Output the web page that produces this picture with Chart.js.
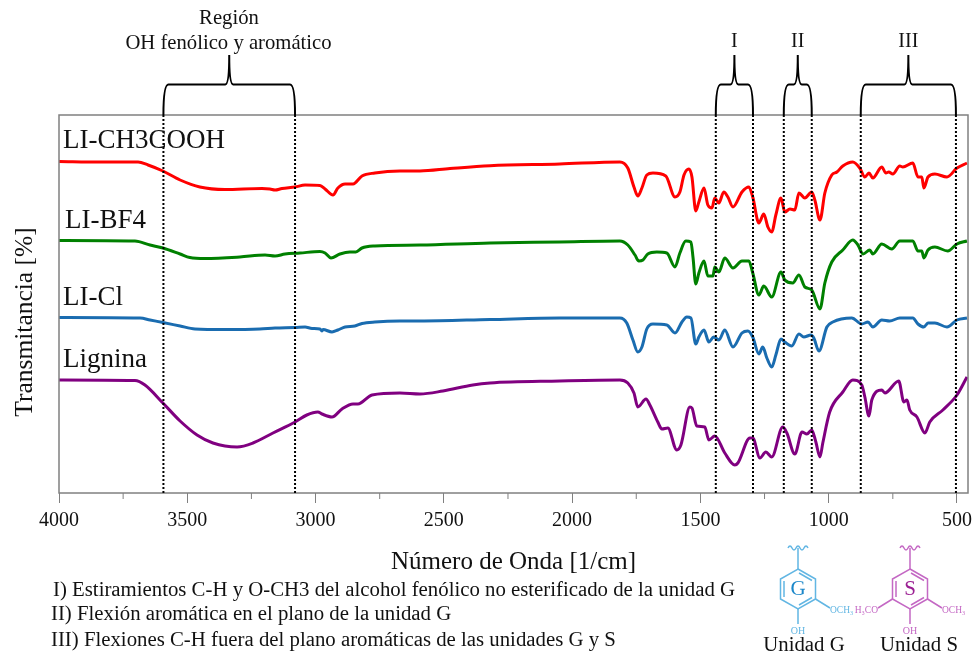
<!DOCTYPE html>
<html lang="es">
<head>
<meta charset="utf-8">
<title>Espectros FTIR</title>
<script src="https://cdn.jsdelivr.net/npm/chart.js@4"></script>
<style>
  body { margin: 0; background: #fff; }
  canvas { display: block; }
</style>
</head>
<body>
<canvas id="myChart" width="973" height="652"></canvas>
<script>
// Values (wavenumber in 1/cm, transmittance in arbitrary units)
const ch3Wn = [4000,3840,3692,3653,3595,3528,3451,3353,3209,3178,3158,3131,3080,3041,2983,2963,2932,2913,2885,2854,2819,2769,2671,2593,2476,2320,2048,1814,1783,1759,1744,1728,1709,1685,1635,1599,1580,1564,1545,1533,1518,1506,1486,1471,1455,1444,1428,1409,1393,1373,1338,1311,1296,1272,1253,1237,1222,1206,1186,1171,1151,1132,1116,1093,1066,1054,1034,1015,988,968,945,906,879,859,843,828,793,777,766,750,723,711,672,652,637,629,613,586,539,500,461];
const ch3T = [331.5,331,331,328,322,313,306,303.5,304.5,304,303,304.5,306,308,307.5,304,298,305,309,309,317,320,322,322,324.5,327.3,329,331,325,306,297,305,318,320,317,296,301,318,324,316,282,291,305,288,285,295,290,301,296,286,301,306,296,270,279,266,261,278,295,281,284,283,300,295,301,293,273,300,318,321,327,331,325,316,320,315,326,320,321,319,327,326,330,316,316,305,316,319,316,325,330];

const bf4Wn = [4000,3704,3645,3595,3528,3490,3431,3295,3197,3158,3119,3061,2983,2963,2940,2905,2866,2843,2819,2769,2593,2320,2048,1814,1783,1755,1740,1724,1705,1670,1631,1599,1580,1557,1537,1529,1518,1506,1486,1471,1451,1444,1428,1405,1373,1338,1311,1296,1272,1253,1222,1186,1171,1140,1116,1093,1066,1034,1015,988,945,906,886,866,840,828,793,754,723,672,652,637,629,613,586,536,500,461];
const bf4T = [252.5,252,248,245,239,235.5,234.5,236,238,237,239,240,241.5,240,235,239,241,241,245,247,248,250,251,252,248,238,232,233,239,241,240,226,240,252,251,236,209,220,232,217,217,226,221,235,225,232,232,220,198,207,196,221,213,210,218,206,203,184,210,231,243,253,248,239,243,239,249,244,252,252,242,242,235,243,246,242,249,252];

const clWn = [4000,3684,3645,3595,3528,3470,3353,3217,3158,3080,3041,3014,2983,2975,2971,2936,2913,2885,2847,2819,2769,2671,2593,2320,2048,1814,1787,1763,1744,1728,1709,1685,1631,1599,1572,1553,1537,1518,1506,1486,1467,1448,1428,1405,1373,1338,1315,1296,1272,1257,1241,1222,1206,1186,1171,1144,1116,1097,1069,1058,1038,1007,984,910,871,847,828,793,762,723,672,652,629,613,586,539,500,461];
const clT = [175.5,175,173,170.5,167,164,163.5,164,165,165.5,166,164.5,164,162,163.5,161,163,166,167,169.5,171,172,172,173.5,175,175,170,153,141,146,164,169,168,160,171,176,175,149,156,163,151,156,153,163,146,160,162,156,139,146,135,126,138,154,151,147,159,156,158,155,142,166,171,175,169,171,166,173,172,175,175,169,166,170,170,166,173,175];

const ligWn = [4000,3704,3665,3595,3528,3462,3400,3306,3244,3166,3080,3034,2991,2975,2936,2897,2854,2835,2780,2671,2593,2504,2387,2320,2048,1814,1783,1759,1744,1712,1697,1666,1650,1627,1592,1576,1541,1533,1514,1483,1467,1444,1405,1366,1354,1307,1296,1268,1245,1222,1179,1163,1132,1104,1085,1066,1050,1034,1023,996,945,906,871,859,843,832,793,781,727,707,695,684,656,625,606,555,500,461];
const ligT = [113,112.5,108,90,72,58,50,46,50,60,71,78,81,79,76,84,89,89,98,100,99,102,108,110,112,113,110,100,86,94,88,71,64,65,43,48,86,85,67,66,53,57,40,28,30,55,55,35,41,36,66,60,39,61,59,63,51,36,50,81,101,113,108,96,77,93,103,100,112,91,93,83,76,60,71,83,98,116];

const seriesNames = ['LI-CH3COOH', 'LI-BF4', 'LI-Cl', 'Lignina'];
const seriesColors = ['#ff0000', '#008000', '#1a6cb0', '#800080'];

const xTickValues = [4000,3750,3500,3250,3000,2750,2500,2250,2000,1750,1500,1250,1000,750,500];

// Dotted limits of the bands and the brackets above them
const bandLimits = [3593, 3080, 1440, 1295, 1175, 1066, 875, 504];
const bandLabels = ['', 'I', 'II', 'III'];
const footnotes = [
    'I) Estiramientos C-H y O-CH3 del alcohol fenólico no esterificado de la unidad G',
    'II) Flexión aromática en el plano de la unidad G',
    'III) Flexiones C-H fuera del plano aromáticas de las unidades G y S'
];

const SERIF = '"Liberation Serif", "Times New Roman", serif';

function toPoints(wn, t) {
    return wn.map((x, i) => ({ x: x, y: t[i] }));
}

function makeDataset(i, wn, t) {
    return {
        label: seriesNames[i],
        data: toPoints(wn, t),
        showLine: true,
        borderColor: seriesColors[i],
        borderWidth: 3,
        pointRadius: 0,
        cubicInterpolationMode: 'monotone'
    };
}

function label(ctx, text, x, y, size, color, align) {
    ctx.font = size + 'px ' + SERIF;
    ctx.fillStyle = color || '#111';
    ctx.textAlign = align || 'center';
    ctx.textBaseline = 'middle';
    ctx.fillText(text, x, y);
}

function bracket(ctx, x1, x2, yTip, yBar, yEnd) {
    const mid = (x1 + x2) / 2;
    ctx.beginPath();
    ctx.moveTo(x1, yEnd);
    ctx.quadraticCurveTo(x1, yBar, x1 + 5, yBar);
    ctx.lineTo(mid - 4, yBar);
    ctx.quadraticCurveTo(mid, yBar, mid, yTip);
    ctx.quadraticCurveTo(mid, yBar, mid + 4, yBar);
    ctx.lineTo(x2 - 5, yBar);
    ctx.quadraticCurveTo(x2, yBar, x2, yEnd);
    ctx.stroke();
}

function segments(ctx, pts) {
    ctx.beginPath();
    pts.forEach(p => {
        ctx.moveTo(p[0], p[1]);
        ctx.lineTo(p[2], p[3]);
    });
    ctx.stroke();
}

// Ring of a lignin unit, the substituents are given by the caller
function ring(ctx, cx, color, letterColor, letter, left) {
    const cy = 589;
    ctx.strokeStyle = color;
    ctx.lineWidth = 1.5;
    const hx = [0, 17.5, 17.5, 0, -17.5, -17.5];
    const hy = [-20, -10, 10, 20, 10, -10];
    ctx.beginPath();
    hx.forEach((h, i) => {
        if (i === 0) ctx.moveTo(cx + h, cy + hy[i]);
        else ctx.lineTo(cx + h, cy + hy[i]);
    });
    ctx.closePath();
    ctx.stroke();
    // inner double bonds
    segments(ctx, [
        [cx + 1, cy - 16, cx + 14, cy - 8.5],
        [cx + 14, cy + 8.5, cx + 1, cy + 16],
        [cx - 14, cy + 8, cx - 14, cy - 8]
    ]);
    // stem, OH and methoxy bonds
    segments(ctx, [
        [cx, cy - 20, cx, cy - 41],
        [cx, cy + 20, cx, cy + 35],
        [cx + 17.5, cy + 10, cx + 32, cy + 19]
    ]);
    if (left) segments(ctx, [[cx - 17.5, cy + 10, cx - 32, cy + 19]]);
    // wavy cut of the chain
    ctx.beginPath();
    ctx.moveTo(cx - 10, cy - 41);
    for (let i = 0; i < 5; i++) {
        ctx.quadraticCurveTo(cx - 8 + i * 4, cy - 45 + (i % 2) * 8, cx - 6 + i * 4, cy - 41);
    }
    ctx.stroke();
    label(ctx, letter, cx, cy, 21, letterColor);
    label(ctx, 'OH', cx, cy + 42, 10, color);
    label(ctx, 'OCH₃', cx + 32, cy + 21, 9.5, color, 'left');
    if (left) label(ctx, 'H₃CO', cx - 32, cy + 21, 9.5, color, 'right');
}

const annotations = {
    id: 'annotations',
    afterDatasetsDraw(chart) {
        const ctx = chart.ctx;
        const xs = chart.scales.x;
        const area = chart.chartArea;
        ctx.save();

        // panel frame
        ctx.strokeStyle = '#808080';
        ctx.lineWidth = 1.5;
        ctx.strokeRect(area.left, area.top, area.right - area.left, area.bottom - area.top);

        // minor ticks, the major ones come from the scale
        ctx.lineWidth = 1;
        xs.ticks.forEach(t => {
            if (t.value % 500 !== 0) {
                const px = xs.getPixelForValue(t.value);
                segments(ctx, [[px, area.bottom, px, area.bottom + 6]]);
            }
        });

        // dotted band limits
        ctx.strokeStyle = '#000';
        ctx.lineWidth = 2;
        ctx.setLineDash([2, 2]);
        bandLimits.forEach(w => {
            const px = xs.getPixelForValue(w);
            segments(ctx, [[px, area.top, px, area.bottom]]);
        });
        ctx.setLineDash([]);

        // brackets above the bands
        ctx.lineWidth = 2;
        for (let i = 0; i < bandLabels.length; i++) {
            const x1 = xs.getPixelForValue(bandLimits[i * 2]);
            const x2 = xs.getPixelForValue(bandLimits[i * 2 + 1]);
            bracket(ctx, x1, x2, 55, 84.5, area.top);
            if (bandLabels[i]) label(ctx, bandLabels[i], (x1 + x2) / 2, 42, 20);
        }
        label(ctx, 'Región', 229, 19, 20.7);
        label(ctx, 'OH fenólico y aromático', 228.5, 44, 20.7);

        // y title sits lower than the middle of the panel
        ctx.save();
        ctx.translate(25, 322);
        ctx.rotate(-Math.PI / 2);
        label(ctx, 'Transmitancia [%]', 0, 0, 25.5);
        ctx.restore();

        // names of the curves
        label(ctx, seriesNames[0], 63, 141, 27, '#111', 'left');
        label(ctx, seriesNames[1], 65, 220.5, 27, '#111', 'left');
        label(ctx, seriesNames[2], 63, 298, 27, '#111', 'left');
        label(ctx, seriesNames[3], 63, 360, 27, '#111', 'left');

        // notes under the chart
        label(ctx, footnotes[0], 53, 591, 20.8, '#111', 'left');
        label(ctx, footnotes[1], 51, 615, 20.8, '#111', 'left');
        label(ctx, footnotes[2], 51, 641, 20.8, '#111', 'left');

        ring(ctx, 798, '#62b6e3', '#1b87c9', 'G', false);
        ring(ctx, 910, '#c468c4', '#9b1f93', 'S', true);
        label(ctx, 'Unidad G', 804, 646, 20.8);
        label(ctx, 'Unidad S', 919, 646, 20.8);
        ctx.restore();
    }
};

const chart = new Chart(document.getElementById('myChart').getContext('2d'), {
    type: 'scatter',
    data: {
        datasets: [
            makeDataset(0, ch3Wn, ch3T),
            makeDataset(1, bf4Wn, bf4T),
            makeDataset(2, clWn, clT),
            makeDataset(3, ligWn, ligT)
        ]
    },
    options: {
        responsive: false,
        animation: false,
        layout: { padding: { top: 115, right: 5, bottom: 75 } },
        plugins: { legend: { display: false }, tooltip: { enabled: false } },
        scales: {
            x: {
                type: 'linear',
                reverse: true,
                min: 457,
                max: 4000,
                afterFit(scale) {
                    scale.height = 84;
                    // the 500 label may hang over the right edge of the panel
                    scale.paddingLeft = 0;
                    scale.paddingRight = 0;
                },
                afterBuildTicks(scale) { scale.ticks = xTickValues.map(v => ({ value: v })); },
                border: { display: false },
                grid: {
                    drawOnChartArea: false,
                    tickLength: 10,
                    tickColor: c => (c.tick && c.tick.value % 500 === 0) ? '#808080' : 'transparent'
                },
                ticks: {
                    autoSkip: false,
                    maxRotation: 0,
                    padding: 6,
                    color: '#111',
                    font: { family: SERIF, size: 20 },
                    callback: v => (v % 500 === 0 ? String(v) : '')
                },
                title: {
                    display: true,
                    text: 'Número de Onda [1/cm]',
                    color: '#111',
                    font: { family: SERIF, size: 25 },
                    padding: { top: 0, bottom: 0 }
                }
            },
            y: {
                min: 0,
                max: 378,
                afterFit(scale) { scale.width = 59; },
                border: { display: false },
                grid: { display: false },
                ticks: { display: false }
            }
        }
    },
    plugins: [annotations]
});
</script>
</body>
</html>
